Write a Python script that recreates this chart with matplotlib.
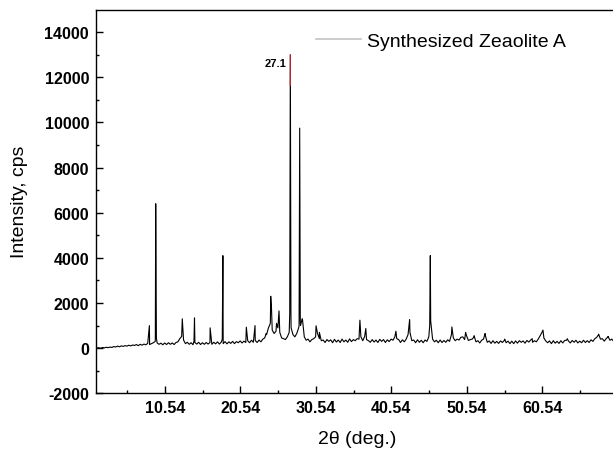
import numpy as np
import matplotlib
matplotlib.use("Agg")
import matplotlib.pyplot as plt
from matplotlib.lines import Line2D
from matplotlib.patches import Rectangle

plt.rcParams["font.family"] = ["Liberation Sans", "DejaVu Sans"]
plt.rcParams["axes.unicode_minus"] = False

# 2-theta scan grid (0.25 deg step) and baseline intensities
scan_start, scan_stop, scan_step = 1.5, 70.0, 0.25
base_counts = [
    0, 20, -10, 30, 10, 40, 20, 50, 30, 70, 50, 90, 60, 100, 80, 110, 90, 130, 100, 140,
    120, 160, 110, 170, 130, 180, 150, 210, 160, 200, 240, 300, 230, 170, 220, 150, 230, 160, 240, 170,
    230, 160, 250, 280, 420, 520, 360, 200, 260, 170, 240, 150, 250, 180, 260, 160, 240, 170, 250, 180,
    250, 170, 260, 190, 280, 180, 270, 200, 290, 190, 280, 210, 300, 200, 290, 240, 320, 230, 310, 250,
    330, 240, 350, 260, 340, 250, 360, 280, 400, 450, 600, 900, 1100, 800, 650, 750, 900, 700, 450, 420,
    380, 500, 700, 900, 600, 500, 650, 900, 1000, 1300, 500, 350, 400, 280, 380, 420, 500, 650, 420, 330,
    360, 250, 380, 300, 370, 240, 390, 270, 360, 250, 400, 280, 360, 260, 410, 290, 380, 330, 420, 400,
    500, 330, 520, 380, 330, 260, 380, 270, 360, 250, 390, 300, 380, 250, 370, 290, 400, 350, 500, 420,
    380, 250, 370, 280, 400, 600, 700, 330, 360, 240, 370, 260, 350, 240, 360, 300, 500, 1200, 400, 280,
    350, 240, 360, 250, 340, 260, 370, 300, 600, 450, 330, 400, 360, 480, 500, 380, 550, 340, 380, 400,
    500, 280, 330, 230, 350, 400, 550, 260, 320, 210, 330, 220, 300, 210, 320, 250, 340, 240, 310, 200,
    310, 200, 320, 220, 330, 260, 320, 220, 340, 270, 360, 260, 330, 280, 400, 550, 700, 450, 320, 240,
    320, 200, 330, 220, 300, 210, 330, 230, 340, 350, 320, 230, 340, 260, 350, 230, 310, 240, 350, 250,
    330, 250, 370, 300, 420, 480, 600, 400, 420, 310, 420, 500, 350, 400, 300,
]

# reflections (position, counts) including the narrow shoulders
peak_pos = [
    8.47, 9.26, 9.31, 9.40, 12.83, 14.38, 14.45, 14.49, 16.52, 18.13, 18.21, 18.24,
    21.32, 22.47, 23.95, 24.55, 24.65, 25.32, 25.65, 27.07, 27.15, 27.23,
    28.31, 28.39, 28.47, 28.72, 30.56, 31.0, 36.37, 37.15, 41.14, 42.96,
    45.62, 45.70, 45.74, 48.56, 50.38, 51.5, 52.96, 55.56, 59.2, 60.63, 63.85,
    68.0, 69.25,
]
peak_counts = [
    1000, 500, 6400, 450, 1300, 300, 1340, 300, 900, 400, 4100, 400,
    930, 1000, 650, 2300, 1800, 1100, 1650, 1500, 13000, 1500,
    1000, 9750, 1200, 1300, 990, 700, 1240, 870, 750, 1270,
    1000, 4100, 1500, 940, 700, 550, 650, 400, 420, 800, 420,
    620, 520,
]

x_major = [10.54, 20.54, 30.54, 40.54, 50.54, 60.54]
x_minor = [5.54, 15.54, 25.54, 35.54, 45.54, 55.54, 65.54]
y_major = [-2000, 0, 2000, 4000, 6000, 8000, 10000, 12000, 14000]
y_minor = [-1000, 1000, 3000, 5000, 7000, 9000, 11000, 13000]

series_label = "Synthesized Zeaolite A"

# merge the baseline grid and the reflections into one scan
grid = np.arange(scan_start, scan_stop + scan_step / 2, scan_step)
two_theta = np.concatenate([grid, peak_pos])
counts = np.concatenate([base_counts, peak_counts])
order = np.argsort(two_theta, kind="stable")
two_theta, counts = two_theta[order], counts[order]

fig = plt.figure(figsize=(6.13, 4.52), dpi=100)
ax = fig.add_axes([0.1566, 0.1277, 0.8434, 0.8487])

ax.plot(two_theta, counts, color="black", lw=0.8, zorder=2)

# top of the strongest reflection is highlighted in red
hi = ax.plot(two_theta, counts, color="#c0282d", lw=0.8, zorder=3)[0]
clip = Rectangle((0, 11600), 100, 5000, transform=ax.transData)
hi.set_clip_path(clip)

i_top = int(np.argmax(counts))
ax.annotate(
    "27.1",
    xy=(two_theta[i_top], counts[i_top]),
    xytext=(-3, -6),
    textcoords="offset points",
    ha="right",
    va="center",
    fontsize=8,
    fontweight="bold",
)

ax.set_xlim(1.396, 69.91)
ax.set_ylim(-2000, 15000)
ax.set_xticks(x_major)
ax.set_xticks(x_minor, minor=True)
ax.set_yticks(y_major)
ax.set_yticks(y_minor, minor=True)
ax.set_xticklabels([f"{v:.2f}" for v in x_major])
ax.tick_params(which="both", direction="in", width=1)
ax.tick_params(which="major", length=5, labelsize=11.5, pad=5)
ax.tick_params(which="minor", length=2.5)
for lab in ax.get_xticklabels() + ax.get_yticklabels():
    lab.set_fontweight("bold")

ax.spines["right"].set_visible(False)
for s in ["left", "bottom", "top"]:
    ax.spines[s].set_linewidth(1)

ax.set_xlabel("2\u03b8 (deg.)", fontsize=14, va="center")
ax.set_ylabel("Intensity, cps", fontsize=14)
ax.xaxis.set_label_coords(357 / 613, 1 - 440 / 452, transform=fig.transFigure)
ax.yaxis.set_label_coords(28 / 613, 1 - 202 / 452, transform=fig.transFigure)

proxy = Line2D([], [], color="#c4c4c4", lw=1.2)
ax.legend(
    [proxy],
    [series_label],
    loc="center left",
    bbox_to_anchor=(316 / 613, 1 - 42 / 452),
    bbox_transform=fig.transFigure,
    frameon=False,
    fontsize=14,
    handlelength=2.3,
    handletextpad=0.3,
    borderpad=0,
    borderaxespad=0,
)

fig.savefig("out.png", dpi=100)
